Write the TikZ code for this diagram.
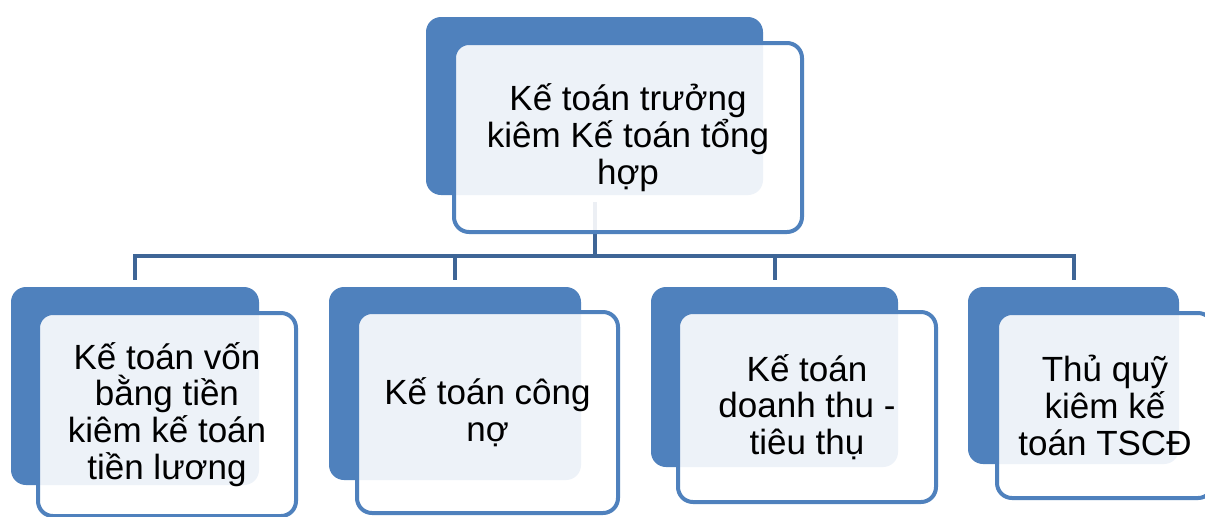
\documentclass[tikz,border=0pt]{standalone}
\usepackage{fontspec}
\setmainfont{Liberation Sans}
\usetikzlibrary{positioning}
\definecolor{boxblue}{RGB}{79, 129, 189}
\definecolor{linkblue}{RGB}{62, 101, 150}
\tikzset{
  backbox/.style={
    draw=none,
    fill=boxblue,
    rounded corners=7.5pt,
    inner sep=0pt,
    outer sep=0pt
  },
  frontbox/.style={
    draw=boxblue,
    line width=2pt,
    fill=white,
    fill opacity=0.9,
    text opacity=1,
    rounded corners=7.5pt,
    align=center,
    inner sep=0pt,
    font=\fontsize{17.5pt}{18.4pt}\selectfont
  },
  link/.style={
    draw=linkblue,
    line width=2pt
  }
}
\begin{document}
\begin{tikzpicture}[x=0.5pt,y=-0.5pt]
\clip (0,0) rectangle (1205,516);
\fill[white] (0,0) rectangle (1205,516);
\coordinate (bus) at (594.5,256);
% back boxes
\node[backbox,minimum width=168.5pt,minimum height=89pt] (tb) at (594.5,106) {};
\node[backbox,minimum width=124pt,minimum height=99pt] (b1) at (135,386) {};
\node[backbox,minimum width=126pt,minimum height=96.5pt] (b2) at (455,383.5) {};
\node[backbox,minimum width=123.5pt,minimum height=90pt] (b3) at (774.5,377) {};
\node[backbox,minimum width=105.5pt,minimum height=88.5pt] (b4) at (1073.5,375.5) {};
% connectors
\draw[link,shorten <=3.5pt] (tb.south) -- (bus);
\draw[link,shorten >=3.5pt] (bus) -| (b1.north);
\draw[link,shorten >=3.5pt] (bus) -| (b2.north);
\draw[link,shorten >=3.5pt] (bus) -| (b3.north);
\draw[link,shorten >=3.5pt] (bus) -| (b4.north);
% front boxes
\node[frontbox,minimum width=174pt,minimum height=94.5pt] (t) at (628,137.5)
  {Kế toán trưởng\\kiêm Kế toán tổng\\hợp};
\node[frontbox,minimum width=129pt,minimum height=101.5pt] (f1) at (167,414.5)
  {Kế toán vốn\\bằng tiền\\kiêm kế toán\\tiền lương};
\node[frontbox,minimum width=130.5pt,minimum height=100.5pt] (f2) at (487.5,412.5)
  {Kế toán công\\nợ};
\node[frontbox,minimum width=129pt,minimum height=95pt] (f3) at (807,407)
  {Kế toán\\doanh thu -\\tiêu thụ};
\node[frontbox,minimum width=108pt,minimum height=92.5pt] (f4) at (1105,405.5)
  {Thủ quỹ\\kiêm kế\\toán TSCĐ};
\end{tikzpicture}
\end{document}
